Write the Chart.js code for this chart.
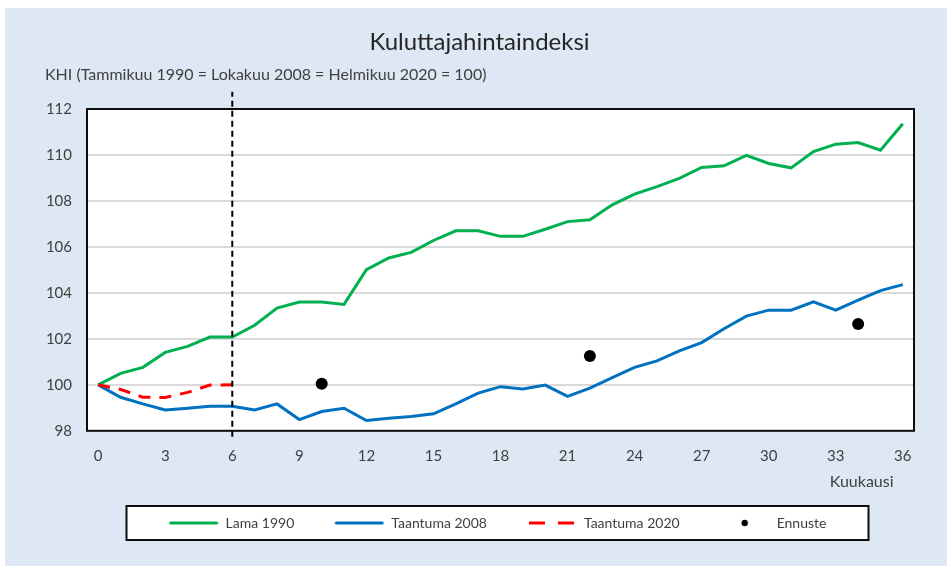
<!DOCTYPE html>
<html>
<head>
<meta charset="utf-8">
<script src="https://cdn.jsdelivr.net/npm/chart.js@4/dist/chart.umd.min.js"></script>
<style>
  html, body { margin: 0; padding: 0; background: #fff; }
  #wrap { width: 947px; height: 566px; }
</style>
</head>
<body>
<div id="wrap"><canvas id="khiChart"></canvas></div>
<script>
// kuukaudet 0..36
const months = ['0','1','2','3','4','5','6','7','8','9','10','11','12','13','14','15','16','17','18',
  '19','20','21','22','23','24','25','26','27','28','29','30','31','32','33','34','35','36'];

const lama1990 = [100.0, 100.5, 100.76, 101.41, 101.67, 102.08, 102.08, 102.59, 103.34, 103.6,
  103.6, 103.5, 105.01, 105.52, 105.76, 106.28, 106.7, 106.7, 106.46, 106.46, 106.77, 107.1,
  107.18, 107.83, 108.3, 108.62, 108.98, 109.46, 109.53, 109.98, 109.63, 109.44, 110.15, 110.47,
  110.54, 110.21, 111.36];

const taantuma2008 = [100.0, 99.46, 99.17, 98.91, 98.98, 99.07, 99.07, 98.91, 99.17, 98.49,
  98.84, 98.98, 98.45, 98.55, 98.62, 98.74, 99.17, 99.64, 99.92, 99.82, 99.99, 99.5, 99.86,
  100.31, 100.76, 101.04, 101.48, 101.84, 102.44, 102.99, 103.25, 103.25, 103.61, 103.25,
  103.68, 104.1, 104.36];

const taantuma2020 = [100.0, 99.8, 99.46, 99.45, 99.67, 99.99, 100.0];

const ennusteMonths = ['10', '22', '34'];
const ennusteValues = [100.05, 101.25, 102.65];

// pystyviiva kuukauden 6 kohdalla
const markerMonth = '6';
const markerSpan = [97.74, 112.75];

const yMin = 98, yMax = 112, yStep = 2;

const FONT = 'Lato, "Open Sans", sans-serif';
const TEXT = '#404040';

// legendan symbolit, 30px tyhjää vasemmalla toimii välinä
function legendIcon(kind, color) {
  const c = document.createElement('canvas');
  c.width = 80; c.height = 10;
  const g = c.getContext('2d');
  g.strokeStyle = color; g.fillStyle = color;
  g.lineWidth = 3; g.lineCap = 'round';
  if (kind === 'line') {
    g.beginPath(); g.moveTo(32, 5); g.lineTo(78, 5); g.stroke();
  } else if (kind === 'dash') {
    g.lineCap = 'butt';
    g.beginPath(); g.moveTo(32, 5); g.lineTo(48, 5); g.moveTo(61, 5); g.lineTo(77, 5); g.stroke();
  } else {
    g.beginPath(); g.arc(55, 5, 3.2, 0, Math.PI * 2); g.fill();
  }
  return c;
}

const icons = [
  legendIcon('line', '#00b050'),
  legendIcon('line', '#0070c0'),
  legendIcon('dash', '#ff0000'),
  legendIcon('dot', '#000000')
];

function legendBox(chart) {
  const {chartArea: a, legend} = chart;
  const cx = (a.left + a.right) / 2 - 3;
  return {x: cx - 371, y: legend.top, w: 742, h: legend.height};
}

const backgroundPlugin = {
  id: 'bg',
  afterLayout(chart) {
    // siirretään legendan sisältöä vähän vasemmalle
    chart.legend.left -= 18;
    chart.legend.right -= 18;
  },
  beforeDraw(chart) {
    const {ctx, chartArea: a} = chart;
    const b = legendBox(chart);
    ctx.save();
    ctx.fillStyle = '#ffffff';
    ctx.fillRect(0, 0, chart.width, chart.height);
    ctx.fillStyle = '#dde8f4';
    ctx.fillRect(5, 8, chart.width - 5, chart.height - 8);
    ctx.fillStyle = '#ffffff';
    ctx.fillRect(a.left, a.top, a.right - a.left, a.bottom - a.top);
    ctx.fillRect(b.x, b.y, b.w, b.h);
    ctx.restore();
  },
  afterDraw(chart) {
    const {ctx, chartArea: a} = chart;
    const b = legendBox(chart);
    ctx.save();
    ctx.strokeStyle = '#0d0d0d';
    ctx.lineWidth = 2;
    ctx.strokeRect(a.left, a.top, a.right - a.left, a.bottom - a.top);
    ctx.strokeRect(b.x, b.y, b.w, b.h);
    ctx.restore();
  }
};

const khiChart = new Chart(
  document.querySelector('#khiChart'),
  {
    type: 'line',
    data: {
      labels: months,
      datasets: [
        {
          label: 'Lama 1990',
          data: lama1990,
          borderColor: '#00b050',
          borderWidth: 3,
          pointRadius: 0,
          order: 5
        },
        {
          label: 'Taantuma 2008',
          data: taantuma2008,
          borderColor: '#0070c0',
          borderWidth: 3,
          pointRadius: 0,
          order: 4
        },
        {
          label: 'Taantuma 2020',
          data: taantuma2020,
          borderColor: '#ff0000',
          borderWidth: 3,
          borderDash: [12, 9],
          pointRadius: 0,
          order: 3
        },
        {
          label: 'Ennuste',
          data: ennusteMonths.map((m, i) => ({x: m, y: ennusteValues[i]})),
          showLine: false,
          pointRadius: 6,
          pointBackgroundColor: '#000',
          pointBorderWidth: 0,
          borderColor: '#000',
          order: 2
        },
        {
          label: '',
          data: markerSpan.map(v => ({x: markerMonth, y: v})),
          borderColor: '#000',
          borderWidth: 2,
          borderDash: [6, 4],
          pointRadius: 0,
          clip: false,
          order: 1
        }
      ]
    },
    options: {
      responsive: true,
      maintainAspectRatio: false,
      animation: false,
      layout: { padding: { left: 45, right: 33, top: 0, bottom: 26 } },
      plugins: {
        tooltip: { enabled: false },
        title: {
          display: true,
          text: 'Kuluttajahintaindeksi',
          color: '#262626',
          font: { family: FONT, size: 24, weight: 'normal' },
          padding: { top: 28, bottom: 2 }
        },
        subtitle: {
          display: true,
          text: 'KHI (Tammikuu 1990 = Lokakuu 2008 = Helmikuu 2020 = 100)',
          align: 'start',
          color: TEXT,
          font: { family: FONT, size: 16 },
          padding: { top: 6, bottom: 25 }
        },
        legend: {
          position: 'bottom',
          fullSize: false,
          labels: {
            usePointStyle: true,
            pointStyleWidth: 80,
            padding: 10,
            color: TEXT,
            font: { family: FONT, size: 14 },
            filter: item => item.text !== '',
            sort: (a, b) => a.datasetIndex - b.datasetIndex,
            generateLabels(chart) {
              const items = Chart.defaults.plugins.legend.labels.generateLabels(chart);
              items.forEach(it => { if (icons[it.datasetIndex]) it.pointStyle = icons[it.datasetIndex]; });
              return items;
            }
          }
        }
      },
      scales: {
        x: {
          offset: true,
          grid: { display: false, drawTicks: false },
          border: { display: false },
          ticks: {
            autoSkip: false,
            maxRotation: 0,
            padding: 16,
            color: TEXT,
            font: { family: FONT, size: 15 },
            callback(value, index) { return index % 3 === 0 ? months[index] : ''; }
          },
          title: {
            display: true,
            text: 'Kuukausi     ',
            align: 'end',
            color: TEXT,
            font: { family: FONT, size: 16 },
            padding: { top: -9, bottom: 15 }
          }
        },
        y: {
          min: yMin,
          max: yMax,
          grid: { color: '#d9d9d9', lineWidth: 2, drawTicks: false },
          border: { display: false },
          ticks: {
            stepSize: yStep,
            padding: 15,
            color: TEXT,
            font: { family: FONT, size: 15 }
          },
          afterFit(scale) { scale.width = 42; }
        }
      }
    },
    plugins: [backgroundPlugin]
  }
);
</script>
</body>
</html>
